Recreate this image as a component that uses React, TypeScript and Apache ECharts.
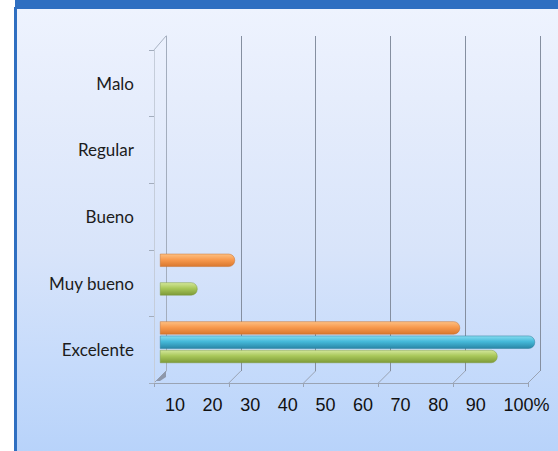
import React, { useEffect, useRef } from "react";
import * as echarts from "echarts";

const categories = ["Excelente", "Muy bueno", "Bueno", "Regular", "Malo"];
const verdeValues = [90, 10, 0, 0, 0];
const azulValues = [100, 0, 0, 0, 0];
const naranjaValues = [80, 20, 0, 0, 0];
const bottomLabels = ["10", "20", "30", "40", "50", "60", "70", "80", "90", "100%"];
const axisTicks = [0, 20, 40, 60, 80, 100];

function grad(top: string, mid: string, bottom: string) {
  return new echarts.graphic.LinearGradient(0, 0, 0, 1, [
    { offset: 0, color: top },
    { offset: 0.45, color: mid },
    { offset: 1, color: bottom },
  ]);
}

const hideZero = (arr: number[]) => arr.map((v) => (v === 0 ? "-" : v));

export default function App() {
  const ref = useRef<HTMLDivElement>(null);
  useEffect(() => {
    if (!ref.current) return;
    const chart = echarts.init(ref.current, null, { renderer: "svg" });
    const frontLeft = 154;
    const frontBottom = 383;
    const depth = 12;
    const step = 374 / 5;
    const graphics: any[] = [];
    axisTicks.forEach((_, i) => {
      const x = frontLeft + i * step;
      graphics.push({
        type: "line",
        shape: { x1: x, y1: frontBottom, x2: x + depth, y2: frontBottom - depth },
        style: { stroke: "#9aa3b3", lineWidth: 1 },
        silent: true,
      });
    });
    graphics.push({
      type: "line",
      shape: { x1: frontLeft, y1: 50, x2: frontLeft + depth, y2: 36 },
      style: { stroke: "#a9b3c3", lineWidth: 1 },
      silent: true,
    });
    graphics.push({
      type: "polygon",
      shape: {
        points: [
          [frontLeft + 2, frontBottom - 2],
          [frontLeft + depth, frontBottom - depth],
          [frontLeft + depth, frontBottom - 6],
          [frontLeft + 6, frontBottom - 2],
        ],
      },
      style: { fill: "#8d97aa" },
      silent: true,
    });
    bottomLabels.forEach((t, i) => {
      graphics.push({
        type: "text",
        x: 165 + i * 37.6,
        y: 405,
        style: {
          text: t,
          fill: "#111111",
          font: '18px "Liberation Sans", Arial, sans-serif',
          textVerticalAlign: "middle",
          textAlign: "left",
        },
        silent: true,
      });
    });

    const barBase = {
      type: "bar",
      xAxisIndex: 2,
      yAxisIndex: 2,
      barWidth: 13,
      barGap: "10%",
    };

    chart.setOption({
      animation: false,
      grid: [
        { left: 166, top: 36, width: 374, height: 335 },
        { left: frontLeft, top: 50, width: 374, height: 333 },
        { left: 160, top: 38, width: 375, height: 338 },
      ],
      xAxis: [
        {
          gridIndex: 0,
          type: "value",
          min: 0,
          max: 100,
          interval: 20,
          axisLabel: { show: false },
          axisLine: { show: false },
          axisTick: { show: false },
          splitLine: { show: true, lineStyle: { color: "#858fa0", width: 1 } },
        },
        {
          gridIndex: 1,
          type: "value",
          min: 0,
          max: 100,
          interval: 20,
          axisLabel: { show: false },
          axisLine: { show: true, lineStyle: { color: "#9aa3b3" } },
          axisTick: { show: true, length: 4, lineStyle: { color: "#9aa3b3" } },
          splitLine: { show: false },
        },
        {
          gridIndex: 2,
          type: "value",
          min: 0,
          max: 100,
          interval: 20,
          show: false,
        },
      ],
      yAxis: [
        {
          gridIndex: 0,
          type: "category",
          data: categories,
          axisLabel: { show: false },
          axisTick: { show: false },
          axisLine: { show: true, lineStyle: { color: "#a3adbd" } },
        },
        {
          gridIndex: 1,
          type: "category",
          data: categories,
          axisLabel: {
            show: true,
            color: "#1c1c1c",
            fontSize: 17,
            fontFamily: "Lato, 'Noto Sans', sans-serif",
            margin: 20,
          },
          axisTick: { show: true, length: 5, lineStyle: { color: "#a3adbd" } },
          axisLine: { show: true, lineStyle: { color: "#c5cdda" } },
        },
        {
          gridIndex: 2,
          type: "category",
          data: categories,
          show: false,
        },
      ],
      graphic: graphics,
      series: [
        {
          ...barBase,
          name: "Naranja",
          data: hideZero(naranjaValues),
          itemStyle: {
            color: grad("#fdc083", "#f89a4e", "#d9772e"),
            borderRadius: [0, 6, 6, 0],
            borderColor: "#c9712c",
            borderWidth: 0.5,
          },
        },
        {
          ...barBase,
          name: "Azul",
          data: hideZero(azulValues),
          itemStyle: {
            color: grad("#86dcf0", "#45b9d9", "#2a86a6"),
            borderRadius: [0, 6, 6, 0],
            borderColor: "#2b7f9c",
            borderWidth: 0.5,
          },
        },
        {
          ...barBase,
          name: "Verde",
          data: hideZero(verdeValues),
          itemStyle: {
            color: grad("#d3e79b", "#a9c85a", "#7d9a38"),
            borderRadius: [0, 6, 6, 0],
            borderColor: "#7f9a3c",
            borderWidth: 0.5,
          },
        },
      ],
    });
    return () => chart.dispose();
  }, []);

  return (
    <div
      style={{
        position: "fixed",
        left: 0,
        top: 0,
        width: 558,
        height: 451,
        background: "#ffffff",
        overflow: "hidden",
      }}
    >
      <div
        style={{
          position: "absolute",
          left: 15,
          top: 0,
          width: 543,
          height: 9,
          background: "#2f6fc1",
        }}
      />
      <div
        style={{
          position: "absolute",
          left: 14,
          top: 7,
          width: 3,
          height: 444,
          background: "#2f6fc1",
        }}
      />
      <div
        style={{
          position: "absolute",
          left: 17,
          top: 9,
          width: 541,
          height: 442,
          background:
            "linear-gradient(to bottom, #eef3fe 0%, #e6edfc 20%, #d8e4fa 55%, #c6dbfb 80%, #b8d3fa 100%)",
        }}
      />
      <div
        ref={ref}
        style={{ position: "absolute", left: 0, top: 0, width: 558, height: 451 }}
      />
    </div>
  );
}
